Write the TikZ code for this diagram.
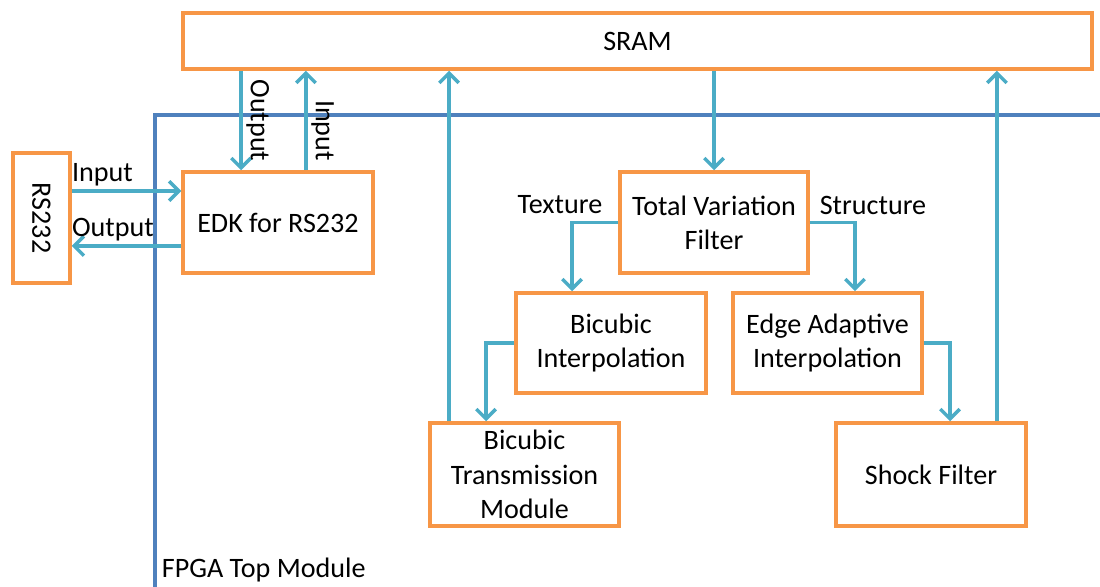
\documentclass[tikz,border=0pt]{standalone}
\usepackage{fontspec}
\setmainfont{Carlito}
\usetikzlibrary{arrows.meta}
\definecolor{boxorange}{HTML}{F79646}
\definecolor{frameblue}{HTML}{4F81BD}
\definecolor{linkteal}{HTML}{4BACC6}
\begin{document}
\begin{tikzpicture}[x=0.02cm,y=-0.02cm,
                    block/.style={draw=boxorange,line width=2pt,fill=white,align=center,inner sep=2pt,
                                  font=\fontsize{16}{19.5}\selectfont},
                    tag/.style={font=\fontsize{16}{19.5}\selectfont,inner sep=2pt},
                    link/.style={draw=linkteal,line width=2pt,-{Straight Barb[length=5.5pt,width=11pt]}}
                   ]
  \useasboundingbox (0,0) rectangle (1100,587);
  \draw[frameblue,line width=1.8pt] (155,590) -- (155,115) -- (1103,115);

  \node[block,minimum width=18.18cm,minimum height=1.12cm] (sram) at (637.5,41) {SRAM};
  \node[block,minimum width=1.14cm,minimum height=2.6cm] (rs) at (41.5,218) {\rotatebox{-90}{RS232}};
  \node[block,minimum width=3.8cm,minimum height=2.02cm] (edk) at (278,222.5) {EDK for RS232};
  \node[block,minimum width=3.76cm,minimum height=2.02cm] (tv) at (714,222.5) {Total Variation\\Filter};
  \node[block,minimum width=3.8cm,minimum height=2cm] (bi) at (611,343) {Bicubic\\Interpolation};
  \node[block,minimum width=3.78cm,minimum height=2cm] (ea) at (827.5,343) {Edge Adaptive\\Interpolation};
  \node[block,minimum width=3.78cm,minimum height=2.06cm] (btm) at (524.5,474.5) {Bicubic\\Transmission\\Module};
  \node[block,minimum width=3.8cm,minimum height=2.06cm] (sf) at (931,474.5) {Shock Filter};

  \node[tag] (texture) at (560,205) {Texture};
  \node[tag] (structure) at (873,205) {Structure};
  \node[tag,anchor=west] (fpga) at (158,570) {FPGA Top Module};

  % RS232 <-> EDK
  \draw[link] ([yshift=0.63cm]edk.west -| rs.east) -- ([yshift=0.63cm]edk.west)
     node[tag,pos=0,above right,xshift=-0.1cm] {Input};
  \draw[link] ([yshift=-0.47cm]edk.west) -- ([yshift=-0.47cm]edk.west -| rs.east)
     node[tag,pos=1,above right,xshift=-0.1cm] {Output};

  % SRAM <-> EDK
  \draw[link] ([xshift=-0.74cm]edk.north |- sram.south) -- ([xshift=-0.74cm]edk.north)
     node[tag,midway,anchor=south,rotate=-90] {Output};
  \draw[link] ([xshift=0.56cm]edk.north) -- ([xshift=0.56cm]edk.north |- sram.south)
     node[tag,pos=0.4,anchor=south,rotate=-90] {Input};

  % filter chain
  \draw[link] (tv.north |- sram.south) -- (tv.north);
  \draw[link] (tv.west) -| ([xshift=-0.78cm]bi.north);
  \draw[link] (tv.east) -| ([xshift=0.55cm]ea.north);
  \draw[link] (bi.west) -| ([xshift=-0.77cm]btm.north);
  \draw[link] (ea.east) -| ([xshift=0.38cm]sf.north);
  \draw[link] ([xshift=-1.51cm]btm.north) -- ([xshift=-1.51cm]btm.north |- sram.south);
  \draw[link] ([xshift=1.32cm]sf.north) -- ([xshift=1.32cm]sf.north |- sram.south);
\end{tikzpicture}
\end{document}
